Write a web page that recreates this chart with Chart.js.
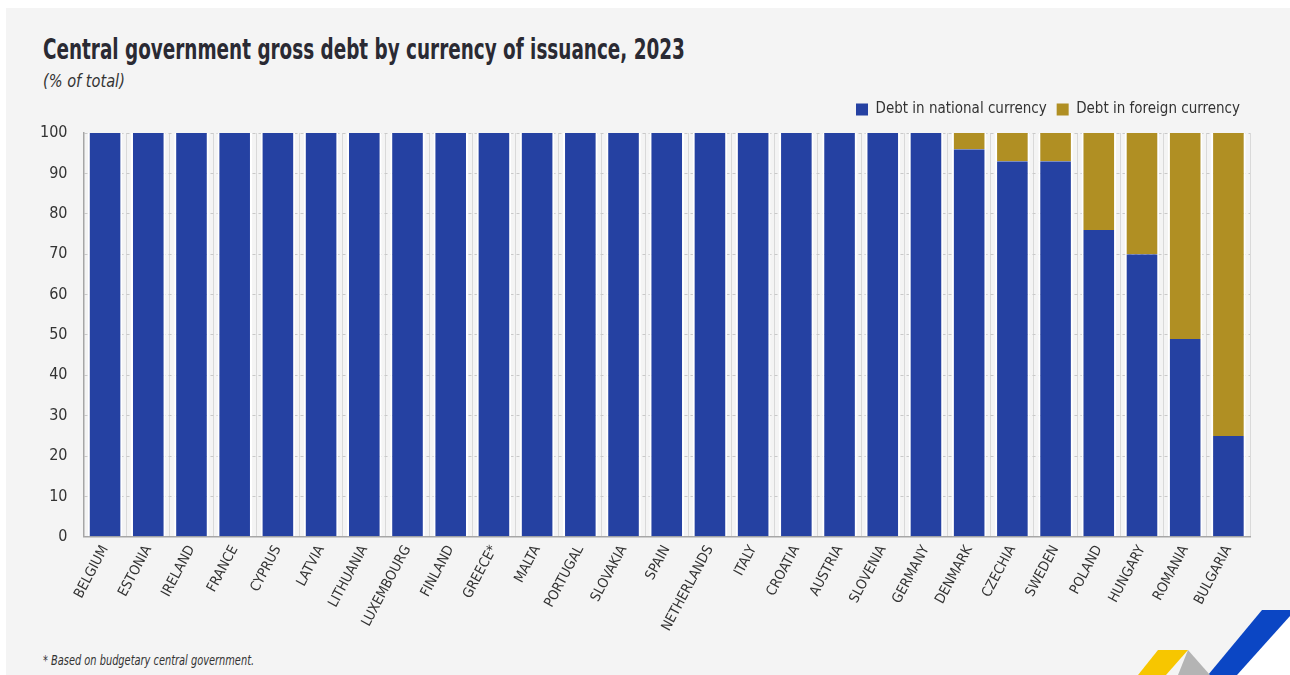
<!DOCTYPE html>
<html>
<head>
<meta charset="utf-8">
<title>Central government gross debt by currency of issuance, 2023</title>
<script src="https://cdn.jsdelivr.net/npm/chart.js@4.4.1/dist/chart.umd.min.js"></script>
<style>
  html, body { margin: 0; padding: 0; background: #ffffff; }
  #frame {
    position: absolute; left: 6px; top: 8px; width: 1284px; height: 667px;
    background: #f4f4f4; overflow: hidden;
    font-family: "Liberation Sans Narrow", "DejaVu Sans Condensed", "Roboto", sans-serif;
    color: #2b2b2b;
  }
  #title {
    position: absolute; left: 37px; top: 25px; margin: 0;
    font-size: 28px; font-weight: bold; color: #2a2a33; white-space: nowrap;
    transform-origin: 0 0; transform: scaleX(0.73);
  }
  #subtitle {
    position: absolute; left: 37px; top: 62px; margin: 0;
    font-size: 18px; font-style: italic; color: #333; white-space: nowrap;
    transform-origin: 0 0; transform: scaleX(0.9);
  }
  #note {
    position: absolute; left: 37px; top: 644px; margin: 0;
    font-size: 14px; font-style: italic; color: #333; white-space: nowrap;
    transform-origin: 0 0; transform: scaleX(0.78);
  }
  #plot { position: absolute; left: -6px; top: 84px; width: 1290px; height: 548px; }
  #logo { position: absolute; left: -6px; top: -8px; width: 1290px; height: 675px; pointer-events: none; }
</style>
</head>
<body>
<div id="frame">
  <h1 id="title">Central government gross debt by currency of issuance, 2023</h1>
  <p id="subtitle">(% of total)</p>
  <div id="plot"><canvas id="debtChart"></canvas></div>
  <p id="note">* Based on budgetary central government.</p>
  <svg id="logo" viewBox="0 0 1290 675">
    <polygon points="1290,616 1290,675 1237,675" fill="#ffffff"/>
    <polygon points="1262,610 1290,610 1290,616 1237,675 1208,675" fill="#0b46c4"/>
    <polygon points="1188,650 1210,675 1178,675" fill="#b4b4b4"/>
    <polygon points="1158,650 1188,650 1166,675 1138,675" fill="#f7c600"/>
  </svg>
</div>

<script>
/* ---------- DATA ---------- */

const countries = [
  "BELGIUM", "ESTONIA", "IRELAND", "FRANCE", "CYPRUS", "LATVIA", "LITHUANIA",
  "LUXEMBOURG", "FINLAND", "GREECE*", "MALTA", "PORTUGAL", "SLOVAKIA", "SPAIN",
  "NETHERLANDS", "ITALY", "CROATIA", "AUSTRIA", "SLOVENIA", "GERMANY", "DENMARK",
  "CZECHIA", "SWEDEN", "POLAND", "HUNGARY", "ROMANIA", "BULGARIA"
];

const nationalShare = [
  100, 100, 100, 100, 100, 100, 100, 100, 100, 100, 100, 100, 100, 100,
  100, 100, 100, 100, 100, 100, 96, 93, 93, 76, 70, 49, 25
];

const foreignShare = [
  0, 0, 0, 0, 0, 0, 0, 0, 0, 0, 0, 0, 0, 0,
  0, 0, 0, 0, 0, 0, 4, 7, 7, 24, 30, 51, 75
];

const yTicks = [0, 10, 20, 30, 40, 50, 60, 70, 80, 90, 100];

/* ---------- STYLE ---------- */

const FONT = "'Liberation Sans Narrow', 'DejaVu Sans Condensed', Roboto, sans-serif";
const BLUE = "#2541a2";
const GOLD = "#b08f23";
const TEXT = "#333333";

function barDataset(label, data, color) {
  return {
    label,
    data,
    backgroundColor: color,
    borderColor: "#ffffff",
    borderWidth: { left: 2, right: 2, top: 0, bottom: 0 },
    borderSkipped: false,
    barPercentage: 0.8,
    categoryPercentage: 1.0
  };
}

// extra room under the legend so the plot starts lower
const legendGap = {
  id: "legendGap",
  beforeInit(chart) {
    const fit = chart.legend.fit;
    chart.legend.fit = function () {
      fit.call(this);
      this.height += 6;
    };
  }
};

/* ---------- INIT ---------- */

const ctx = document.getElementById("debtChart").getContext("2d");

new Chart(ctx, {
  type: "bar",
  data: {
    labels: countries,
    datasets: [
      barDataset("Debt in national currency", nationalShare, BLUE),
      barDataset("Debt in foreign currency", foreignShare, GOLD)
    ]
  },
  plugins: [legendGap],
  options: {
    responsive: true,
    maintainAspectRatio: false,
    animation: false,
    layout: { padding: { left: 24, right: 40, top: 0, bottom: 0 } },
    plugins: {
      legend: {
        position: "top",
        align: "end",
        labels: {
          boxWidth: 12,
          boxHeight: 12,
          padding: 10,
          color: TEXT,
          font: { family: FONT, size: 15 },
          generateLabels(chart) {
            return chart.data.datasets.map((ds, i) => ({
              text: ds.label,
              fillStyle: ds.backgroundColor,
              strokeStyle: ds.backgroundColor,
              lineWidth: 0,
              fontColor: TEXT,
              datasetIndex: i
            }));
          }
        }
      },
      tooltip: { enabled: false }
    },
    scales: {
      x: {
        stacked: true,
        grid: { offset: true, color: "#d9d9d9", lineWidth: 1, drawTicks: false },
        border: { color: "#a6a6a6", width: 1.5 },
        ticks: {
          autoSkip: false,
          minRotation: 62,
          maxRotation: 62,
          padding: 6,
          color: TEXT,
          font: { family: FONT, size: 14 }
        }
      },
      y: {
        stacked: true,
        min: 0,
        max: 100,
        afterBuildTicks(axis) {
          axis.ticks = yTicks.map(v => ({ value: v }));
        },
        grid: { color: "#c9c9c9", lineWidth: 1, drawTicks: false },
        border: { color: "#a6a6a6", width: 1.5, dash: [3, 3] },
        ticks: {
          padding: 16,
          color: TEXT,
          font: { family: FONT, size: 16 }
        }
      }
    }
  }
});
</script>
</body>
</html>
